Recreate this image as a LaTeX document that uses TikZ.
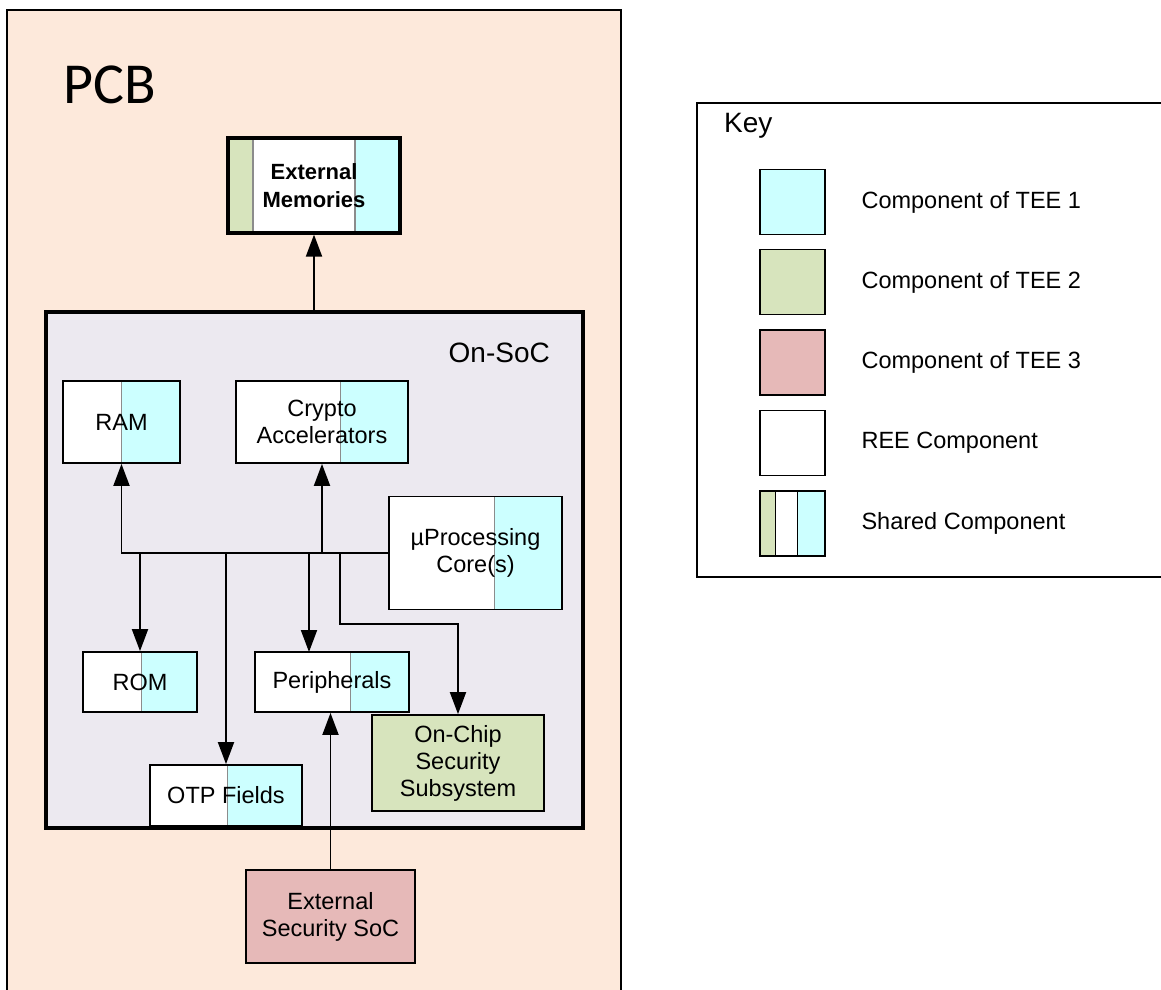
\documentclass[tikz,border=0pt]{standalone}
\usepackage{fontspec}
\setmainfont{Liberation Sans}
\newfontfamily\pcbfont{Carlito}
\usetikzlibrary{calc,arrows.meta}
\definecolor{teeone}{HTML}{CCFFFF}
\definecolor{teetwo}{HTML}{D7E4BD}
\definecolor{teethree}{HTML}{E6B9B8}
\definecolor{pcbfill}{HTML}{FDE9DB}
\definecolor{socfill}{HTML}{ECE9F0}
\definecolor{divgray}{HTML}{8C8C8C}
\tikzset{
  comp/.style={draw=black, line width=1.8pt, fill=white, inner sep=0pt, align=center,
    font=\fontsize{23.5}{27}\selectfont, text=black},
  split/.style={path picture={
    \fill[teeone] ($(path picture bounding box.south west)!#1!(path picture bounding box.south east)$)
      rectangle (path picture bounding box.north east);
    \draw[divgray, line width=1pt] ($(path picture bounding box.south west)!#1!(path picture bounding box.south east)$)
      -- ($(path picture bounding box.north west)!#1!(path picture bounding box.north east)$);}},
  conn/.style={line width=1.9pt, -{Triangle[length=22pt,width=16pt]}},
  bus/.style={line width=1.9pt},
  keytext/.style={anchor=west, font=\fontsize{23.5}{27}\selectfont},
  swatch/.style={draw=black, line width=1.8pt, minimum width=65pt, minimum height=65pt, inner sep=0pt}
}
\begin{document}
\begin{tikzpicture}[x=1pt,y=-1pt]
\useasboundingbox (0,0) rectangle (1161,989);
% PCB
\fill[pcbfill] (7,10) rectangle (621,995);
\draw[line width=1.6pt] (7,995) -- (7,10) -- (621,10) -- (621,995);
\node[anchor=base west, inner sep=0pt, font=\pcbfont\fontsize{58}{60}\selectfont] (pcblabel) at (63,103) {PCB};

% External memories
\node[comp, line width=3.2pt, minimum width=172pt, minimum height=95pt,
  path picture={
    \fill[teetwo] (path picture bounding box.south west) rectangle ($(path picture bounding box.north west)!0.145!(path picture bounding box.north east)$);
    \fill[teeone] ($(path picture bounding box.south west)!0.738!(path picture bounding box.south east)$) rectangle (path picture bounding box.north east);
    \draw[divgray, line width=1.2pt] ($(path picture bounding box.south west)!0.145!(path picture bounding box.south east)$) -- ($(path picture bounding box.north west)!0.145!(path picture bounding box.north east)$);
    \draw[divgray, line width=1.2pt] ($(path picture bounding box.south west)!0.738!(path picture bounding box.south east)$) -- ($(path picture bounding box.north west)!0.738!(path picture bounding box.north east)$);
  }, font=\bfseries\fontsize{22}{28}\selectfont] (extmem) at (314,185.5) {External\\Memories};

% On-SoC
\node[draw=black, line width=3.2pt, fill=socfill, minimum width=537pt, minimum height=516pt, inner sep=0pt] (soc) at (314.5,570) {};
\node[anchor=base east, inner sep=0pt, font=\fontsize{28}{30}\selectfont] (soclabel) at (550,362) {On-SoC};

% components
\node[comp, split=0.504, minimum width=117pt, minimum height=82pt] (ram) at (121.5,422) {RAM};
\node[comp, split=0.61, minimum width=172pt, minimum height=82pt] (crypto) at (322,422) {Crypto\\Accelerators};
\node[comp, split=0.607, minimum width=173pt, minimum height=113pt] (core) at (475.5,553) {µProcessing\\Core(s)};
\node[comp, split=0.51, minimum width=114pt, minimum height=60pt] (rom) at (140,682) {ROM};
\node[comp, split=0.617, minimum width=154pt, minimum height=60pt] (periph) at (332,682) {Peripherals};
\node[comp, split=0.513, minimum width=152pt, minimum height=61pt] (otp) at (226,795.5) {OTP Fields};
\node[comp, fill=teetwo, minimum width=172pt, minimum height=96pt] (onchip) at (458,763) {On-Chip\\Security\\Subsystem};
\node[comp, fill=teethree, minimum width=169pt, minimum height=93pt] (extsoc) at (330.5,916.5) {External\\Security SoC};

% connectors
\draw[conn] (soc.north -| extmem.south) -- (extmem.south);
\coordinate (busl) at (121,553);
\draw[bus] (core.west) -- (busl);
\draw[conn] (busl) -- (busl -| ram.south) -- (ram.south);
\draw[conn] (322,553) -- (crypto.south);
\draw[conn] (140,553) -- (rom.north);
\draw[conn] (226,553) -- (otp.north);
\draw[conn] (309,553) -- (309,652);
\coordinate (ocbend) at (340,624);
\draw[conn] (340,553) -- (ocbend) -- (ocbend -| onchip.north) -- (onchip.north);
\draw[conn] (extsoc.north) -- (extsoc.north |- periph.south);

% Key
\draw[line width=1.6pt] (1170,103) -- (697,103) -- (697,577) -- (1170,577);
\node[anchor=base west, inner sep=0pt, font=\fontsize{28}{30}\selectfont] (keylabel) at (724,132) {Key};
\node[swatch, fill=teeone] (k1) at (792.5,202) {};
\node[swatch, fill=teetwo] (k2) at (792.5,282) {};
\node[swatch, fill=teethree] (k3) at (792.5,362.5) {};
\node[swatch, fill=white] (k4) at (792.5,443) {};
\node[swatch, fill=white,
  path picture={
    \fill[teetwo] (path picture bounding box.south west) rectangle ($(path picture bounding box.north west)!0.24!(path picture bounding box.north east)$);
    \fill[teeone] ($(path picture bounding box.south west)!0.575!(path picture bounding box.south east)$) rectangle (path picture bounding box.north east);
    \draw[line width=1.6pt] ($(path picture bounding box.south west)!0.24!(path picture bounding box.south east)$) -- ($(path picture bounding box.north west)!0.24!(path picture bounding box.north east)$);
    \draw[line width=1.6pt] ($(path picture bounding box.south west)!0.575!(path picture bounding box.south east)$) -- ($(path picture bounding box.north west)!0.575!(path picture bounding box.north east)$);
  }] (k5) at (792.5,523.5) {};
\node[keytext] (t1) at (858,202) {Component of TEE 1};
\node[keytext] (t2) at (858,282) {Component of TEE 2};
\node[keytext] (t3) at (858,362.5) {Component of TEE 3};
\node[keytext] (t4) at (858,443) {REE Component};
\node[keytext] (t5) at (858,523.5) {Shared Component};
\end{tikzpicture}
\end{document}
